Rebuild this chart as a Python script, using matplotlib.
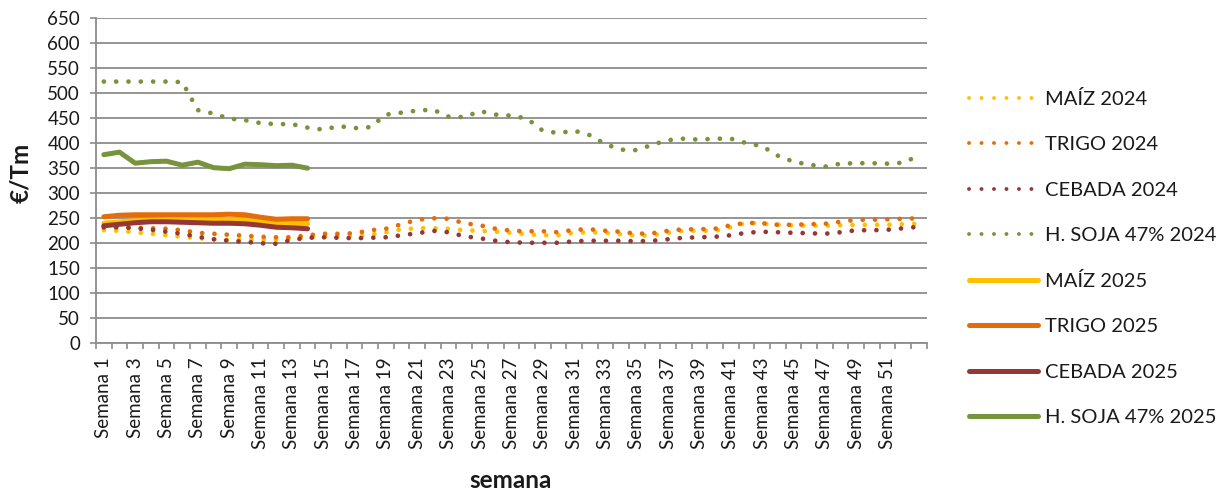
import matplotlib
matplotlib.use("Agg")
import matplotlib.pyplot as plt
from matplotlib.lines import Line2D

plt.rcParams['font.family'] = ['Lato', 'DejaVu Sans']

weeks = list(range(1, 54))
week_labels = [f"Semana {w}" if (w % 2 == 1 and w <= 51) else "" for w in weeks]

maiz_2024 = [226, 225, 222, 219, 216, 213, 210, 208, 207, 207, 207, 207, 209, 212, 213, 214, 214,
             217, 222, 228, 230, 230, 229, 226, 225, 223, 221, 218, 216, 216, 221, 222, 221, 218,
             215, 216, 221, 225, 225, 225, 232, 241, 239, 237, 236, 235, 235, 236, 237, 237, 237,
             238, 239]
trigo_2024 = [232, 232, 231, 230, 229, 226, 221, 219, 217, 215, 213, 212, 212, 216, 219, 219, 220,
              226, 229, 238, 247, 250, 249, 240, 236, 229, 225, 224, 224, 222, 227, 228, 225, 223,
              219, 220, 225, 228, 228, 229, 236, 241, 240, 237, 237, 238, 239, 243, 247, 247, 248,
              249, 250]
cebada_2024 = [232, 232, 230, 227, 223, 219, 213, 208, 205, 203, 200, 199, 207, 211, 212, 211, 210,
               211, 212, 216, 220, 225, 222, 214, 210, 205, 202, 201, 201, 201, 204, 205, 205, 205,
               204, 205, 208, 211, 212, 213, 216, 221, 223, 222, 221, 220, 219, 222, 226, 226, 227,
               230, 233]
soja_2024 = [523, 523, 523, 523, 523, 522, 466, 459, 449, 446, 440, 438, 438, 431, 427, 434, 430,
             432, 457, 461, 465, 467, 453, 452, 464, 457, 455, 449, 425, 420, 425, 416, 398, 387,
             386, 397, 406, 409, 407, 409, 409, 400, 394, 375, 363, 357, 353, 359, 360, 360, 359,
             361, 375]

weeks_2025 = list(range(1, 15))
maiz_2025 = [240, 243, 245, 246, 247, 247, 247, 247, 247, 246, 243, 240, 240, 239]
trigo_2025 = [253, 256, 257, 257, 257, 257, 257, 257, 258, 257, 252, 248, 249, 249]
cebada_2025 = [235, 238, 241, 243, 243, 242, 241, 240, 240, 239, 236, 232, 231, 229]
soja_2025 = [377, 382, 360, 363, 364, 356, 362, 351, 349, 358, 357, 355, 356, 350]

labels = ["MAÍZ 2024", "TRIGO 2024", "CEBADA 2024", "H. SOJA 47% 2024",
          "MAÍZ 2025", "TRIGO 2025", "CEBADA 2025", "H. SOJA 47% 2025"]

c_maiz = "#FFC000"
c_trigo = "#E46C0A"
c_cebada = "#953735"
c_soja = "#77933C"
grid_c = "#8C8C8C"
txt_c = "#1a1a1a"

W, H = 1232, 491
fig = plt.figure(figsize=(W / 100, H / 100), dpi=100)
x0, x1, y_top, y_bot = 96, 926.7, 18, 343.4
ax = fig.add_axes([x0 / W, 1 - y_bot / H, (x1 - x0) / W, (y_bot - y_top) / H])

dot_lw = 3.4
dot_style = (0, (0.01, 2.6))
for ys, c in [(maiz_2024, c_maiz), (trigo_2024, c_trigo), (cebada_2024, c_cebada), (soja_2024, c_soja)]:
    ax.plot(weeks, ys, color=c, lw=dot_lw, linestyle=dot_style, dash_capstyle='round', zorder=3)

for ys, c in [(maiz_2025, c_maiz), (trigo_2025, c_trigo), (cebada_2025, c_cebada), (soja_2025, c_soja)]:
    ax.plot(weeks_2025, ys, color=c, lw=3.6, solid_capstyle='round', solid_joinstyle='round', zorder=4)

ax.set_xlim(0.5, 53.5)
ax.set_ylim(0, 650)
ax.set_yticks(range(0, 651, 50))
ax.yaxis.grid(True, color=grid_c, lw=1.3)
ax.set_axisbelow(True)

ax.set_xticks(weeks)
ax.set_xticklabels(week_labels, rotation=90, fontsize=13.5, color=txt_c)
ax.set_xticks([w + 0.5 for w in range(0, 54)], minor=True)
ax.tick_params(axis='x', which='major', length=0, pad=10)
ax.tick_params(axis='x', which='minor', length=4.5, width=1.2, color=grid_c, direction='out')
ax.tick_params(axis='y', length=4.5, width=1.2, color=grid_c, labelsize=13.5, labelcolor=txt_c, pad=7)

for s in ['top', 'right']:
    ax.spines[s].set_visible(False)
for s in ['left', 'bottom']:
    ax.spines[s].set_color(grid_c)
    ax.spines[s].set_linewidth(1.3)

ax.set_ylabel("€/Tm", fontsize=17.5, fontweight='bold', color=txt_c)
ax.yaxis.set_label_coords((21 - x0) / (x1 - x0), (y_bot - 173) / (y_bot - y_top))
ax.yaxis.label.set_va('center')
ax.set_xlabel("semana", fontsize=17.5, fontweight='bold', color=txt_c)
ax.xaxis.set_label_coords((511 - x0) / (x1 - x0), (y_bot - 480) / (y_bot - y_top))
ax.xaxis.label.set_va('center')

handles = []
for c in [c_maiz, c_trigo, c_cebada, c_soja]:
    handles.append(Line2D([0], [0], color=c, lw=2.8, linestyle=(0, (0.01, 3.2)), dash_capstyle='round'))
for c in [c_maiz, c_trigo, c_cebada, c_soja]:
    handles.append(Line2D([0], [0], color=c, lw=3.6, solid_capstyle='round'))

fig.legend(handles, labels, loc='upper left', bbox_to_anchor=(969 / W, 1 - 90 / H),
           frameon=False, fontsize=14.5, handlelength=3.45, handletextpad=0.33,
           labelspacing=1.4, borderaxespad=0, borderpad=0, labelcolor=txt_c)

fig.savefig("out.png", dpi=100)
